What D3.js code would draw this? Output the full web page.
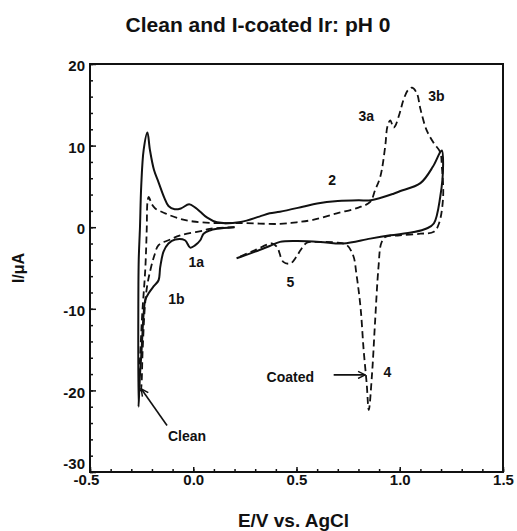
<!DOCTYPE html>
<html lang="en">
<head>
  <meta charset="UTF-8">
  <title>Clean and I-coated Ir: pH 0</title>
  <style>
    body { margin: 0; background: #fff; }
    text { font-family: "Liberation Sans", Arial, sans-serif; font-weight: bold; fill: #111; }
  </style>
</head>
<body>
  <script src="https://cdn.jsdelivr.net/npm/d3@7"></script>
  <script>
    // clean Ir (solid): start at 0.2 V, sweep negative, then up to 1.2 V and back
    const cleanE = [0.2, 0.115, 0.08, 0.05, 0.034, 0.01, -0.015, -0.04, -0.087, -0.12, -0.144, -0.16, -0.168, -0.19, -0.216, -0.232, -0.24, -0.25, -0.26, -0.265,
      -0.266, -0.264, -0.258, -0.252, -0.24, -0.222, -0.21, -0.19, -0.168, -0.14, -0.12, -0.09, -0.06, -0.02, 0.01, 0.034, 0.066, 0.115, 0.23, 0.32, 0.37, 0.42, 0.53, 0.6, 0.7, 0.8, 0.86, 0.97, 1.0, 1.1, 1.16, 1.196, 1.204,
      1.21, 1.196, 1.165, 1.13, 1.067, 0.954, 0.857, 0.726, 0.615, 0.5, 0.42, 0.37, 0.3, 0.21];
    const cleanI = [0.0, -0.2, -0.4, -0.8, -1.6, -2.2, -2.5, -1.6, -1.5, -2.0, -3.0, -4.9, -6.5, -7.2, -8.1, -8.9, -10.5, -15, -19, -22,
      -10, -4, 0, 5, 9.5, 11.6, 9.5, 7, 5.5, 3.6, 2.6, 2.2, 2.3, 2.8, 2.4, 1.9, 1.2, 0.6, 0.65, 1.3, 1.7, 1.9, 2.5, 2.9, 3.2, 3.3, 3.3, 4.1, 4.4, 5.4, 7.4, 9.2, 9.4,
      7.8, 3.7, 0.45, -0.16, -0.6, -1.0, -1.4, -2.0, -1.8, -1.7, -1.8, -2.3, -3.0, -3.8];

    // I-coated Ir (dashed)
    const coatedE = [0.2, 0.08, 0.05, -0.063, -0.12, -0.168, -0.19, -0.208, -0.224, -0.235, -0.245, -0.255,
      -0.258, -0.25, -0.232, -0.225, -0.222, -0.216, -0.2, -0.184, -0.136, -0.07, 0.0, 0.115, 0.25, 0.42, 0.5, 0.58, 0.695, 0.8, 0.857, 0.88, 0.906, 0.93, 0.94, 0.954, 0.97, 0.978, 1.0, 1.018, 1.04, 1.06, 1.083, 1.1, 1.13, 1.165, 1.196,
      1.204, 1.21, 1.19, 1.165, 1.1, 1.0, 0.93, 0.91, 0.897, 0.88, 0.866, 0.85, 0.84, 0.825, 0.81, 0.79, 0.775, 0.744, 0.7, 0.6, 0.55, 0.52, 0.5, 0.47, 0.436, 0.405, 0.38, 0.3, 0.21];
    const coatedI = [0.0, -0.2, -0.4, -1.0, -1.6, -2.2, -3.6, -5.3, -7.3, -10, -15, -20,
      -20, -12, -5, 0, 3, 3.7, 2.8, 2.3, 1.7, 1.07, 0.7, 0.5, 0.5, 0.4, 0.6, 0.9, 1.7, 2.4, 3.1, 4.5, 6.2, 10, 12.3, 13.1, 12.2, 12.4, 14, 15.6, 16.8, 17.1, 16.4, 14.5, 11.9, 10.3, 9.2,
      7.4, 3.7, 0.45, -0.57, -0.8, -1.0, -1.2, -2.0, -4.9, -11.8, -17.9, -22.4, -19.2, -15, -9.8, -5.7, -3.5, -2.2, -1.9, -1.8, -1.9, -2.8, -3.6, -4.45, -4.25, -2.4, -2.0, -2.8, -3.8];

    const xTicks = [-0.5, 0.0, 0.5, 1.0, 1.5];
    const yTicks = [-30, -20, -10, 0, 10, 20];

    // peak labels, placed in data units
    const peakText = ["1a", "1b", "2", "3a", "3b", "4", "5"];
    const peakE = [0.015, -0.082, 0.673, 0.838, 1.177, 0.94, 0.47];
    const peakI = [-4.3, -8.8, 5.8, 13.6, 16.1, -17.8, -6.7];

    const width = 517, height = 531;
    const margin = { top: 64, left: 90, bottom: 59, right: 14 };

    const svg = d3.select('body').append('svg').attr('width', width).attr('height', height);

    const x = d3.scaleLinear().domain([-0.5, 1.5]).range([margin.left, width - margin.right]);
    const y = d3.scaleLinear().domain([-30, 20]).range([height - margin.bottom, margin.top]);

    // minor ticks
    svg.append('g').attr('transform', `translate(0,${y(-30)})`)
      .call(d3.axisBottom(x).tickValues(d3.range(-5, 16).map(d => d / 10)).tickSize(-3).tickFormat(''))
      .call(g => g.select('.domain').remove());
    svg.append('g').attr('transform', `translate(${x(-0.5)},0)`)
      .call(d3.axisLeft(y).tickValues(d3.range(-30, 21, 2)).tickSize(-3).tickFormat(''))
      .call(g => g.select('.domain').remove());

    // major ticks + labels (plain hyphen for negatives, as in the original)
    const xAxis = svg.append('g').attr('transform', `translate(0,${y(-30)})`)
      .call(d3.axisBottom(x).tickValues(xTicks).tickSize(-5).tickPadding(2).tickFormat(d => d.toFixed(1)));
    const yAxis = svg.append('g').attr('transform', `translate(${x(-0.5)},0)`)
      .call(d3.axisLeft(y).tickValues(yTicks).tickSize(-6).tickPadding(5).tickFormat(d => String(d)));

    [xAxis, yAxis].forEach(g => {
      g.select('.domain').remove();
      g.selectAll('text').style('font-size', '15px').style('font-family', '"Liberation Sans", Arial, sans-serif').style('font-weight', 'bold').attr('fill', '#111');
    });
    svg.selectAll('.tick line').attr('stroke', '#111').attr('stroke-width', 1.5);
    xAxis.selectAll('.tick text').filter(d => d < 0).attr('dx', -4);
    yAxis.selectAll('.tick text').attr('dy', '0.45em');
    yAxis.selectAll('.tick text').filter(d => d === -30).attr('dy', '-0.22em');

    // frame
    svg.append('rect')
      .attr('x', x(-0.5)).attr('y', y(20))
      .attr('width', x(1.5) - x(-0.5)).attr('height', y(-30) - y(20))
      .attr('fill', 'none').attr('stroke', '#111').attr('stroke-width', 2);

    const line = d3.line().x(d => x(d[0])).y(d => y(d[1])).curve(d3.curveCatmullRom.alpha(0.5));

    svg.append('path')
      .datum(d3.zip(cleanE, cleanI))
      .attr('d', line)
      .attr('fill', 'none').attr('stroke', '#111').attr('stroke-width', 2);

    svg.append('path')
      .datum(d3.zip(coatedE, coatedI))
      .attr('d', line)
      .attr('fill', 'none').attr('stroke', '#111').attr('stroke-width', 1.8)
      .attr('stroke-dasharray', '7,4');

    // peak labels
    svg.append('g').selectAll('text').data(peakText).enter().append('text')
      .attr('x', (d, i) => x(peakE[i]))
      .attr('y', (d, i) => y(peakI[i]))
      .attr('dy', '0.35em')
      .attr('text-anchor', 'middle')
      .style('font-size', '14px')
      .text(d => d);

    // arrows
    svg.append('defs').append('marker')
      .attr('id', 'arr').attr('viewBox', '0 0 10 10').attr('refX', 9).attr('refY', 5)
      .attr('markerWidth', 9).attr('markerHeight', 9).attr('markerUnits', 'userSpaceOnUse').attr('orient', 'auto')
      .append('path').attr('d', 'M1,1 L9,5 L1,9').attr('fill', 'none').attr('stroke', '#111').attr('stroke-width', 1.6);

    svg.append('line')
      .attr('x1', x(-0.127)).attr('y1', y(-24.3)).attr('x2', x(-0.252)).attr('y2', y(-19.8))
      .attr('stroke', '#111').attr('stroke-width', 1.6).attr('marker-end', 'url(#arr)');
    svg.append('text').attr('x', x(-0.03)).attr('y', y(-25.6)).attr('dy', '0.35em')
      .attr('text-anchor', 'middle').style('font-size', '14px').text('Clean');

    svg.append('line')
      .attr('x1', x(0.68)).attr('y1', y(-18.1)).attr('x2', x(0.833)).attr('y2', y(-18.1))
      .attr('stroke', '#111').attr('stroke-width', 1.6).attr('marker-end', 'url(#arr)');
    svg.append('text').attr('x', x(0.47)).attr('y', y(-18.4)).attr('dy', '0.35em')
      .attr('text-anchor', 'middle').style('font-size', '14px').text('Coated');

    // titles
    svg.append('text').attr('x', 258).attr('y', 32).attr('text-anchor', 'middle')
      .style('font-size', '21px').text('Clean and I-coated Ir: pH 0');
    svg.append('text').attr('x', (x(-0.5) + x(1.5)) / 2 - 3).attr('y', 527).attr('text-anchor', 'middle')
      .style('font-size', '19px').text('E/V vs. AgCl');
    svg.append('text').attr('transform', `translate(24,${(y(20) + y(-30)) / 2}) rotate(-90)`)
      .attr('text-anchor', 'middle').style('font-size', '16px').text('I/\u03bcA');
  </script>
</body>
</html>
